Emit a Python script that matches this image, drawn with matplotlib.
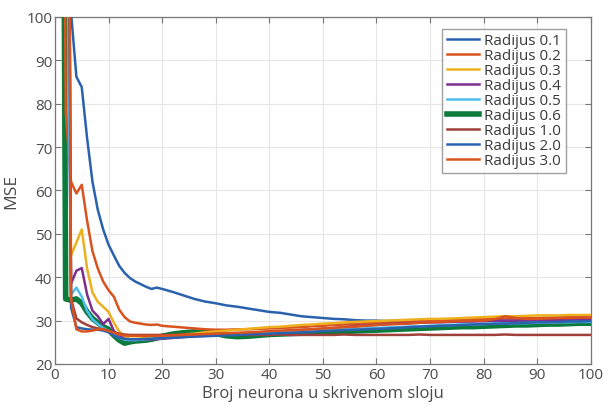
import numpy as np
import matplotlib
matplotlib.use('Agg')
import matplotlib.pyplot as plt

# broj neurona: 1..20 svaki, pa svaki drugi do 100
neurons = list(range(1, 21)) + list(range(22, 101, 2))

r01 = [300, 160, 101, 86.2, 83.8, 72, 62, 55.5, 51, 47.5, 45, 42.6, 41, 39.8, 39, 38.4, 37.8, 37.3, 37.6, 37.3,
       36.6, 35.8, 35.0, 34.4, 34.0, 33.5, 33.2, 32.8, 32.4, 32.0, 31.8, 31.4, 31.0, 30.8, 30.6, 30.4, 30.3, 30.1, 30.0, 30.0,
       29.9, 30.0, 29.8, 29.8, 29.9, 29.8, 29.9, 29.8, 29.9, 29.9, 30.0, 29.9, 30.0, 30.0, 30.1, 30.0, 30.1, 30.1, 30.2, 30.2]
r02 = [300, 78, 62, 59.3, 61.3, 53, 46, 42, 39, 37, 35.5, 32.5, 30.8, 29.8, 29.5, 29.3, 29.1, 29.0, 29.1, 28.8,
       28.6, 28.4, 28.2, 28.0, 27.9, 27.9, 28.0, 28.0, 28.1, 28.2, 28.3, 28.4, 28.5, 28.7, 28.8, 29.0, 29.1, 29.2, 29.4, 29.5,
       29.6, 29.7, 29.8, 29.9, 30.0, 30.0, 30.1, 30.2, 30.3, 30.3, 30.4, 30.5, 30.5, 30.6, 30.6, 30.7, 30.7, 30.8, 30.8, 30.8]
r03 = [300, 160, 45, 48, 51, 42, 36.5, 34.3, 33.2, 32, 29.5, 27.5, 26.3, 25.8, 25.8, 25.9, 26.0, 26.1, 26.2, 26.3,
       26.5, 26.8, 27.0, 27.3, 27.5, 27.7, 27.9, 28.1, 28.3, 28.5, 28.6, 28.8, 29.0, 29.1, 29.3, 29.4, 29.6, 29.7, 29.8, 29.9,
       30.0, 30.1, 30.2, 30.3, 30.4, 30.4, 30.5, 30.6, 30.7, 30.8, 30.9, 31.0, 31.0, 31.1, 31.2, 31.2, 31.2, 31.3, 31.3, 31.3]
r04 = [300, 160, 38.5, 41.5, 42.1, 36, 32.3, 31, 29.2, 30.4, 27.6, 26.6, 25.7, 25.5, 25.5, 25.6, 25.6, 25.7, 25.7, 25.8,
       26.0, 26.2, 26.4, 26.5, 26.7, 26.8, 26.9, 27.0, 27.1, 27.3, 27.4, 27.6, 27.8, 28.0, 28.1, 28.3, 28.5, 28.7, 28.9, 29.0,
       29.2, 29.3, 29.4, 29.5, 29.6, 29.6, 29.7, 29.8, 29.8, 29.9, 30.0, 30.0, 30.0, 30.1, 30.1, 30.2, 30.2, 30.3, 30.3, 30.3]
r05 = [300, 160, 36, 37.6, 35.5, 32.2, 30.3, 29.2, 28.3, 27.6, 26.6, 26.0, 25.6, 25.5, 25.5, 25.6, 25.7, 25.8, 25.9, 26.0,
       26.2, 26.4, 26.6, 26.7, 26.8, 26.9, 27.0, 27.1, 27.2, 27.3, 27.4, 27.5, 27.6, 27.7, 27.8, 27.9, 28.0, 28.1, 28.2, 28.3,
       28.4, 28.5, 28.6, 28.7, 28.8, 28.9, 29.0, 29.1, 29.1, 29.2, 29.3, 29.3, 29.4, 29.4, 29.5, 29.5, 29.6, 29.6, 29.7, 29.7]
r06 = [300, 35, 34.7, 35, 34, 32, 30.5, 29.5, 28.6, 28, 26.6, 25.5, 24.8, 25.1, 25.3, 25.4, 25.5, 25.7, 26.0, 26.4,
       26.9, 27.2, 27.4, 27.3, 27.0, 26.5, 26.3, 26.4, 26.6, 26.8, 26.9, 27.0, 27.1, 27.2, 27.3, 27.4, 27.5, 27.6, 27.7, 27.8,
       27.9, 28.0, 28.1, 28.2, 28.3, 28.4, 28.5, 28.6, 28.6, 28.7, 28.8, 28.9, 29.0, 29.0, 29.1, 29.2, 29.2, 29.3, 29.4, 29.4]
r10 = [300, 300, 35, 30.5, 29.6, 29.0, 28.5, 28.2, 28.0, 27.6, 27.2, 27.0, 26.8, 26.7, 26.7, 26.7, 26.7, 26.7, 26.7, 26.7,
       26.7, 26.8, 26.7, 26.7, 26.7, 26.8, 26.7, 26.7, 26.7, 26.7, 26.8, 26.7, 26.7, 26.7, 26.7, 26.7, 26.8, 26.7, 26.7, 26.7,
       26.7, 26.7, 26.7, 26.8, 26.7, 26.7, 26.7, 26.7, 26.7, 26.7, 26.7, 26.8, 26.7, 26.7, 26.7, 26.7, 26.7, 26.7, 26.7, 26.7]
r20 = [300, 300, 33, 28.5, 28.2, 28.0, 27.9, 27.9, 27.7, 27.3, 26.5, 26.0, 25.8, 25.7, 25.7, 25.7, 25.8, 25.8, 25.9, 26.0,
       26.1, 26.2, 26.3, 26.4, 26.5, 26.6, 26.7, 26.8, 26.9, 27.0, 27.1, 27.2, 27.3, 27.4, 27.6, 27.7, 27.8, 27.9, 28.0, 28.1,
       28.2, 28.3, 28.5, 28.6, 28.7, 28.8, 28.9, 29.0, 29.1, 29.2, 29.3, 29.3, 29.4, 29.5, 29.6, 29.6, 29.7, 29.8, 29.8, 29.9]
r30 = [300, 300, 35, 28, 27.5, 27.5, 27.7, 28.0, 28.0, 27.6, 27.2, 26.8, 26.6, 26.5, 26.5, 26.5, 26.5, 26.5, 26.5, 26.5,
       26.6, 26.7, 26.8, 26.9, 27.0, 27.1, 27.2, 27.3, 27.4, 27.6, 27.7, 27.8, 27.9, 28.0, 28.2, 28.3, 28.5, 28.6, 28.8, 29.0,
       29.1, 29.2, 29.3, 29.5, 29.6, 29.7, 29.8, 29.9, 30.0, 30.0, 30.3, 31.0, 30.6, 30.4, 30.4, 30.5, 30.6, 30.6, 30.7, 30.7]

labels = ['Radijus 0.1', 'Radijus 0.2', 'Radijus 0.3', 'Radijus 0.4', 'Radijus 0.5',
          'Radijus 0.6', 'Radijus 1.0', 'Radijus 2.0', 'Radijus 3.0']
series = [r01, r02, r03, r04, r05, r06, r10, r20, r30]
colors = ['#2a62ad', '#d9531e', '#edb120', '#7e2f8e', '#4dbeee',
          '#0b7a3a', '#a0403a', '#2a62ad', '#d9531e']
widths = [1.8, 1.8, 1.8, 1.8, 1.8, 4.0, 1.8, 1.8, 1.8]

plt.rcParams['font.family'] = ['Open Sans', 'DejaVu Sans']
txt = '#4a4a4a'

fig = plt.figure(figsize=(6.04, 4.06), dpi=100)
ax = fig.add_axes([0.091, 0.101, 0.887, 0.855])

# zeleni (0.6) se crta ispod ostalih kao u originalu
order = [5, 0, 1, 2, 3, 4, 6, 7, 8]
handles = {}
for i in order:
    h, = ax.plot(neurons, series[i], color=colors[i], lw=widths[i], label=labels[i], zorder=3 if i == 5 else 4)
    handles[i] = h

ax.set_xlim(0, 100)
ax.set_ylim(20, 100)
ax.set_xticks(np.arange(0, 101, 10))
ax.set_yticks(np.arange(20, 101, 10))
ax.grid(True, color='#e6e6e6', lw=0.8)
ax.set_axisbelow(True)
ax.tick_params(direction='in', top=True, right=True, length=4, width=0.8, pad=2,
               colors='#777777', labelcolor=txt, labelsize=11)
for s in ax.spines.values():
    s.set_color('#777777')
    s.set_linewidth(0.9)

ax.set_xlabel('Broj neurona u skrivenom sloju', fontsize=12, color=txt, labelpad=2)
ax.set_ylabel('MSE', fontsize=12.5, color=txt, labelpad=5)

leg = ax.legend([handles[i] for i in range(9)], labels, loc='upper right',
                bbox_to_anchor=(0.953, 0.966), borderaxespad=0, fontsize=11, frameon=True,
                fancybox=False, edgecolor='#888888', handlelength=2.1, handletextpad=0.35,
                labelspacing=0.0, borderpad=0.3)
for t in leg.get_texts():
    t.set_color('#3a3a3a')
leg.get_frame().set_linewidth(1.0)

fig.savefig('out.png', dpi=100)
